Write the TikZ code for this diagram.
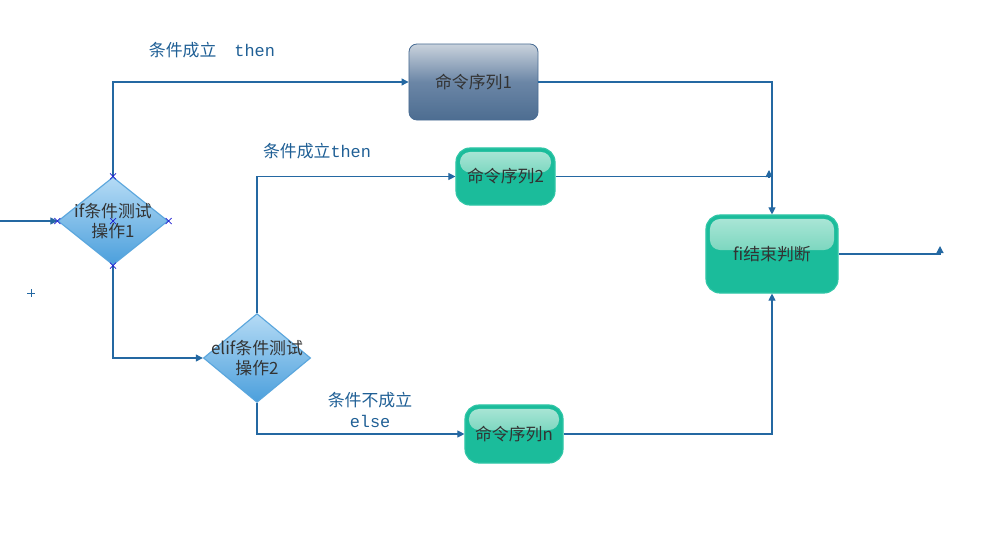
\documentclass[tikz,border=0pt]{standalone}
\usepackage{fontspec}
\setmainfont{Noto Sans CJK SC}
\newfontfamily\monofnt{Liberation Mono}
\usetikzlibrary{arrows.meta, shapes.geometric, calc}
\definecolor{colLine}{HTML}{2468A2}
\definecolor{colText}{HTML}{333333}
\definecolor{colLabel}{HTML}{1F5F95}
\definecolor{colTeal}{HTML}{1BBC9B}
\definecolor{colTealEdge}{HTML}{2FC6A6}
\definecolor{colMint}{HTML}{AEE7D8}
\definecolor{colMintLow}{HTML}{40C3A2}
\definecolor{colSlateTop}{HTML}{C9D2DC}
\definecolor{colSlateMid}{HTML}{6B86A6}
\definecolor{colSlateLow}{HTML}{4D6D91}
\definecolor{colSlateEdge}{HTML}{4A6D94}
\definecolor{colSkyTop}{HTML}{B5DBF5}
\definecolor{colSkyLow}{HTML}{4B9FDC}
\definecolor{colSkyEdge}{HTML}{5AA6DD}
\definecolor{colMark}{HTML}{1A1AD0}
\tikzset{
  flow/.style={draw=colLine, line width=0.8pt, -{Triangle[length=5pt,width=5pt]}},
  decision/.style={diamond, inner sep=0pt, draw=colSkyEdge, line width=0.8pt,
                   top color=colSkyTop, bottom color=colSkyLow},
  dtext/.style={align=center, text=colText, font=\fontsize{12}{14.5}\selectfont},
  slatebox/.style={rectangle, rounded corners=0.2cm, draw=colSlateEdge, line width=0.6pt,
                   top color=colSlateTop, bottom color=colSlateLow, middle color=colSlateMid,
                   text=colText, font=\fontsize{12}{14}\selectfont},
  tealbox/.style={rectangle, rounded corners=0.35cm, draw=colTealEdge, line width=0.8pt,
                  fill=colTeal, text=colText, font=\fontsize{12}{14}\selectfont,
                  path picture={\fill[top color=colMint, bottom color=colMintLow, rounded corners=0.25cm]
                    ($(path picture bounding box.north west)+(0.1cm,-0.1cm)$) rectangle
                    ($(path picture bounding box.east)+(-0.1cm,0.1cm)$);}},
  lbl/.style={text=colLabel, font=\fontsize{12}{15}\selectfont, inner sep=0pt, align=center},
  xmk/.style={draw=colMark, line width=0.5pt},
}
\begin{document}
\begin{tikzpicture}[x=0.025cm, y=-0.025cm]
  \useasboundingbox (0,0) rectangle (992,559);
  % decisions
  \node[decision, minimum width=2.75cm, minimum height=2.2cm,
        label={[dtext]center:if条件测试\\操作1}] (d1) at (113,221) {};
  \node[decision, minimum width=2.68cm, minimum height=2.22cm,
        label={[dtext]center:elif条件测试\\操作2}] (d2) at (257,358) {};
  % command blocks
  \node[slatebox, minimum width=3.225cm, minimum height=1.9cm] (c1) at (473.5,82) {命令序列1};
  \node[tealbox, minimum width=2.475cm, minimum height=1.425cm] (c2) at (505.5,176.5) {命令序列2};
  \node[tealbox, minimum width=2.45cm, minimum height=1.45cm] (cn) at (514,434) {命令序列n};
  \node[tealbox, minimum width=3.3cm, minimum height=1.95cm] (fi) at (772,254) {fi结束判断};
  % loose ends
  \coordinate (start) at (0,221);
  \coordinate (c2end) at (769,170);
  \coordinate (outend) at (940,246);
  % connectors
  \draw[flow] (start) -- (d1.west);
  \draw[flow] (d1.north) |- (c1.west);
  \draw[flow] (c1.east) -| (fi.north);
  \draw[flow] (d1.south) |- (d2.west);
  \draw[flow] (d2.north) |- (c2.west);
  \draw[flow] (c2.east) -| (c2end);
  \draw[flow] (d2.south) |- (cn.west);
  \draw[flow] (cn.east) -| (fi.south);
  \draw[flow] (fi.east) -| (outend);
  % labels
  \node[lbl] (t1) at (212,50) {条件成立\hspace{0.45cm}{\monofnt then}};
  \node[lbl] (t2) at (317,151) {条件成立{\monofnt then}};
  \node[lbl] (t3) at (370,400) {条件不成立};
  \node[lbl] (t4) at (370,421) {\monofnt else};
  % anchor marks
  \foreach \a in {north,south,east,west,center}
    \draw[xmk] (d1.\a) +(-3,-3) -- +(3,3) +(-3,3) -- +(3,-3);
  \draw[draw=colLine, line width=0.5pt] (31,289) -- (31,297) (27,293) -- (35,293);
\end{tikzpicture}
\end{document}
